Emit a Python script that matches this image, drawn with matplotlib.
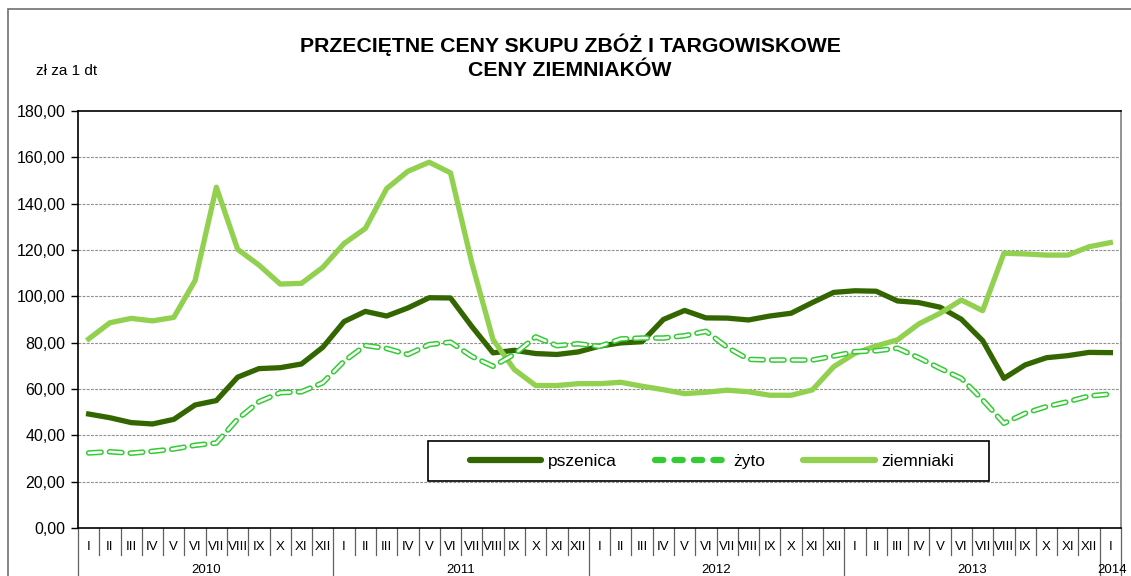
import numpy as np
import matplotlib
matplotlib.use("Agg")
import matplotlib.pyplot as plt
from matplotlib.lines import Line2D
from matplotlib.patches import Rectangle
import matplotlib.transforms as mtransforms

plt.rcParams["font.family"] = ["Liberation Sans", "DejaVu Sans"]
plt.rcParams["lines.scale_dashes"] = False

# dane: styczeń 2010 - styczeń 2014
miesiace = ["I", "II", "III", "IV", "V", "VI", "VII", "VIII", "IX", "X", "XI", "XII"]
lata = ["2010", "2011", "2012", "2013", "2014"]

pszenica = [49.2, 47.6, 45.5, 44.9, 46.9, 53.1, 55.0, 65.1, 68.8, 69.2, 70.8, 78.0,
            89.1, 93.5, 91.5, 95.0, 99.4, 99.3, 87.0, 75.6, 76.7, 75.3, 74.9, 76.0,
            78.5, 79.9, 80.4, 90.0, 93.9, 90.7, 90.6, 89.8, 91.5, 92.7, 97.3, 101.7,
            102.4, 102.2, 98.0, 97.3, 95.3, 90.1, 80.9, 64.6, 70.4, 73.5, 74.4, 75.8,
            75.7]

zyto = [32.4, 32.9, 32.3, 33.1, 34.1, 35.7, 36.7, 47.0, 54.5, 58.4, 58.8, 62.7,
        72.0, 78.8, 77.5, 74.9, 79.2, 80.2, 74.1, 69.8, 75.0, 82.5, 78.7, 79.5,
        78.4, 81.6, 82.0, 82.0, 83.0, 84.9, 78.0, 72.8, 72.5, 72.5, 72.5, 74.2,
        76.1, 76.5, 77.6, 73.5, 68.9, 64.6, 55.3, 45.2, 49.5, 52.4, 54.5, 57.0,
        57.8]

ziemniaki = [81.6, 88.6, 90.5, 89.4, 90.9, 106.8, 147.1, 120.3, 113.5, 105.3, 105.6, 112.5,
             122.8, 129.3, 146.5, 154.0, 157.9, 153.3, 114.5, 81.3, 68.4, 61.5, 61.5, 62.3,
             62.3, 62.9, 61.2, 59.7, 58.0, 58.6, 59.5, 58.8, 57.3, 57.3, 59.6, 69.6,
             75.4, 78.6, 81.2, 88.1, 92.7, 98.4, 93.8, 118.6, 118.3, 117.8, 117.8, 121.4,
             123.2]

kolor_pszenica = "#336600"
kolor_zyto = "#33CC33"
kolor_ziemniaki = "#92D050"

x = np.arange(len(pszenica))
etykiety = (miesiace * 4) + ["I"]

fig = plt.figure(figsize=(11.31, 5.76), dpi=100)
ax = fig.add_axes([78 / 1131, 1 - 528 / 576, (1121 - 78) / 1131, (528 - 111) / 576])

# ramka wokół całego wykresu
fig.patches.append(Rectangle((8 / 1131, -0.1), 1.2, 1 - 9 / 576 + 0.1,
                             transform=fig.transFigure, fill=False,
                             edgecolor="#707070", linewidth=1.2))

ax.plot(x, pszenica, color=kolor_pszenica, linewidth=3.8, solid_joinstyle="round", zorder=3)
# żyto - przerywana z białym środkiem
ax.plot(x, zyto, color=kolor_zyto, linewidth=4.0, dashes=(9, 6),
        dash_capstyle="round", zorder=4)
ax.plot(x, zyto, color="white", linewidth=1.8, dashes=(9, 6),
        dash_capstyle="round", zorder=5)
ax.plot(x, ziemniaki, color=kolor_ziemniaki, linewidth=3.8, solid_joinstyle="round", zorder=3)

ax.set_xlim(-0.5, len(x) - 0.5)
ax.set_ylim(0, 180)
ax.set_yticks(np.arange(0, 181, 20))
ax.set_yticklabels([f"{v:.2f}".replace(".", ",") for v in np.arange(0, 181, 20)], fontsize=11.5)
ax.tick_params(axis="y", length=5, width=1, direction="out", pad=4)
ax.set_xticks([])

for v in np.arange(20, 180, 20):
    ax.axhline(v, color="#909090", linewidth=0.8, linestyle=(0, (2, 1)), zorder=1)

ax.spines["left"].set_color("black")
ax.spines["bottom"].set_color("black")
ax.spines["top"].set_color("black")
ax.spines["right"].set_color("#808080")
for s in ax.spines.values():
    s.set_linewidth(1.2)

# oś kategorii: miesiące i lata
trans = mtransforms.blended_transform_factory(ax.transData, ax.transAxes)
for i, lab in enumerate(etykiety):
    ax.text(i, -0.045, lab, transform=trans, ha="center", va="center",
            fontsize=9.5, clip_on=False)
for k in range(len(x) + 1):
    pos = k - 0.5
    if k % 12 == 0 or k == len(x):
        dol = -0.12
    else:
        dol = -0.065
    ax.plot([pos, pos], [0, dol], transform=trans, color="#606060",
            linewidth=0.9, clip_on=False)
for j, rok in enumerate(lata):
    if rok == "2014":
        srodek = 48.1
    else:
        srodek = j * 12 + 5.5
    ax.text(srodek, -0.1, rok, transform=trans, ha="center", va="center",
            fontsize=9.5, clip_on=False)

# tytuł i jednostka
fig.text(570 / 1131, 1 - 45 / 576, "PRZECIĘTNE CENY SKUPU ZBÓŻ I TARGOWISKOWE",
         ha="center", va="center", fontsize=15.3, fontweight="bold")
fig.text(570 / 1131, 1 - 70 / 576, "CENY ZIEMNIAKÓW",
         ha="center", va="center", fontsize=15.3, fontweight="bold")
fig.text(36 / 1131, 1 - 71 / 576, "zł za 1 dt", ha="left", va="center", fontsize=11)

# legenda: ramka rysowana osobno
fig.patches.append(Rectangle((428 / 1131, 1 - 481 / 576), (989 - 428) / 1131, 40 / 576,
                             transform=fig.transFigure, facecolor="white",
                             edgecolor="black", linewidth=1.2, zorder=6))
uchwyty = [
    Line2D([], [], color=kolor_pszenica, linewidth=4.5, solid_capstyle="round"),
    Line2D([], [], color=kolor_zyto, linewidth=4.5, dashes=(6, 8), dash_capstyle="round"),
    Line2D([], [], color=kolor_ziemniaki, linewidth=4.5, solid_capstyle="round"),
]
leg = fig.legend(uchwyty, ["pszenica", "żyto", "ziemniaki"], ncol=3,
                 loc="center",
                 bbox_to_anchor=(712 / 1131, 1 - 461 / 576),
                 bbox_transform=fig.transFigure, fontsize=12.5, handlelength=4.1,
                 handletextpad=0.4, columnspacing=2.2, frameon=False)
leg.set_zorder(7)

plt.savefig("out.png", dpi=100)
